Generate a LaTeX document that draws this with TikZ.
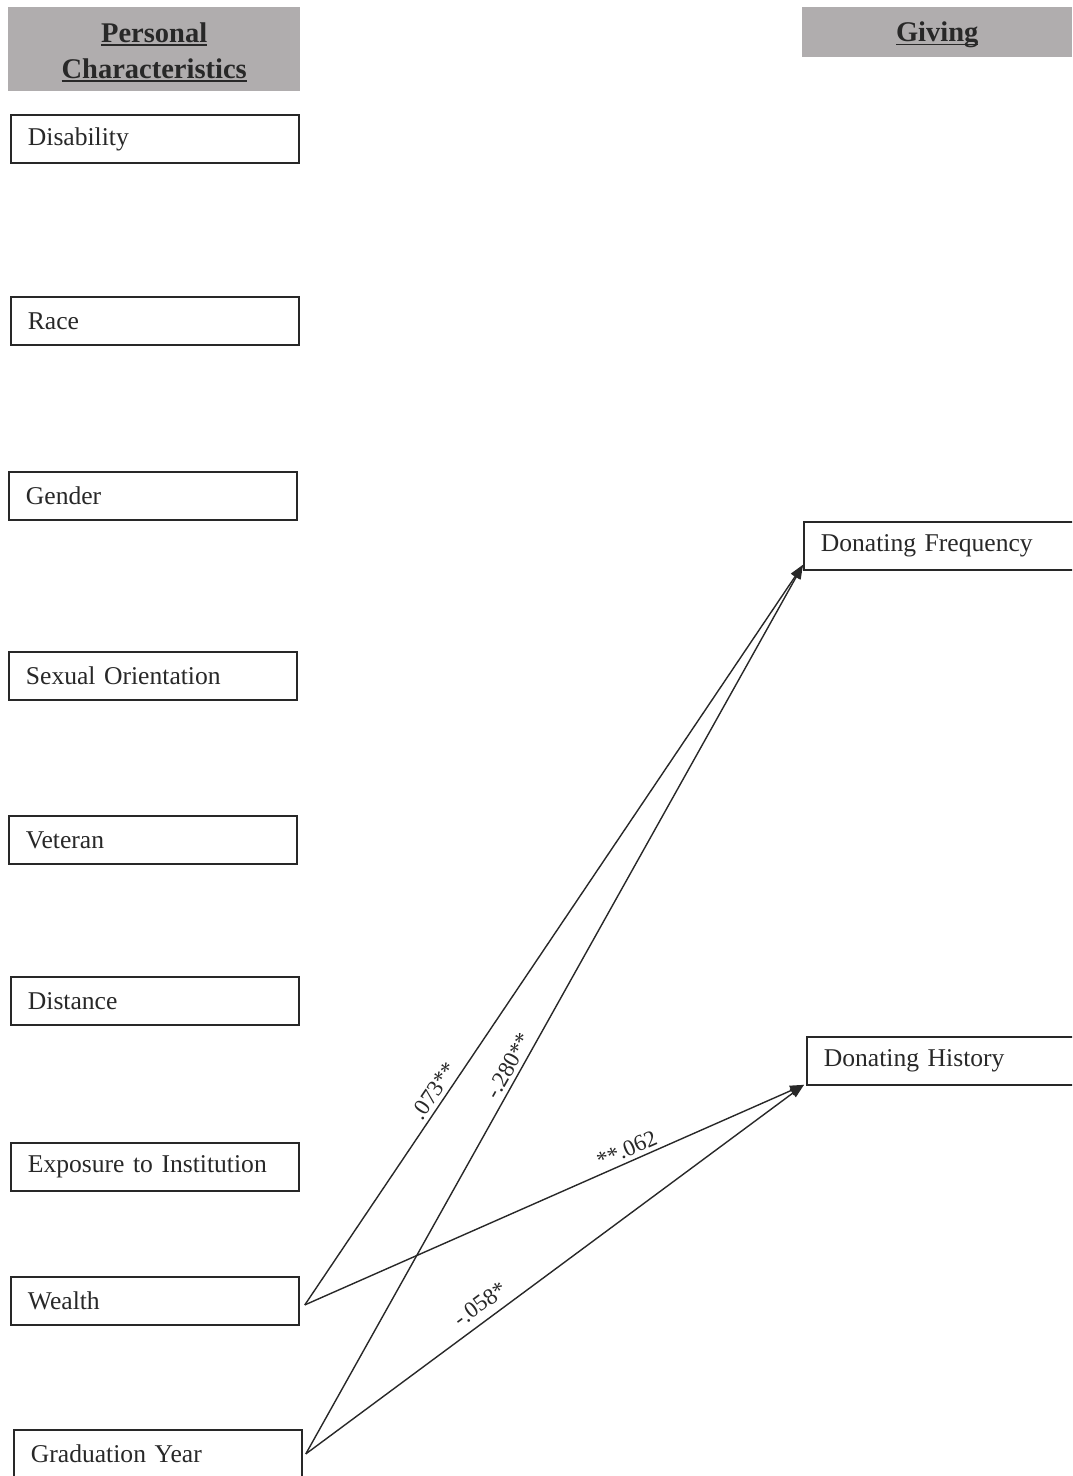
\documentclass[tikz,border=0pt]{standalone}
\usepackage{fontspec}
\setmainfont{Liberation Serif}
\usetikzlibrary{arrows.meta,calc}
\definecolor{headgrey}{RGB}{176,173,174}
\definecolor{ink}{RGB}{40,40,40}
% bold heading word with a heavy underline
\newcommand\ulword[1]{\setbox0\hbox{#1}\rlap{\rule[-3.5pt]{\wd0}{1.8pt}}\box0}

\begin{document}
\begin{tikzpicture}[x=1pt,y=-1pt,
  varbox/.style={draw=ink, line width=1.8pt, anchor=north west,
    minimum height=48pt, inner xsep=17pt, inner ysep=0pt,
    text width=254pt, align=left, text=ink,
    font=\fontsize{25.6}{30}\selectfont},
  headbox/.style={fill=headgrey, anchor=north west, inner sep=0pt},
  headtext/.style={inner sep=0pt, align=center, text=ink,
    font=\fontsize{28.5}{36}\selectfont\bfseries},
  link/.style={draw=ink, line width=1.4pt,
    -{Triangle[length=14pt,width=10pt]}},
  coef/.style={sloped, above=1pt, inner sep=3pt, text=ink,
    font=\fontsize{23}{25}\selectfont}]

\clip (0,0) rectangle (1072,1476);
\fill[white] (0,0) rectangle (1072,1476);

% column headings
\node[headbox, minimum width=292pt, minimum height=84pt] (hpc) at (8,7) {};
\node[headtext] (hpct) at ($(hpc.center)+(0,3)$)
  {\ulword{Personal}\\\ulword{Characteristics}};
\node[headbox, minimum width=270pt, minimum height=50pt] (hgv) at (802,7) {};
\node[headtext] (hgvt) at ($(hgv.center)+(0,3)$) {\ulword{Giving}};

% personal characteristics
\node[varbox] (dis)    at (10,114)  {Disability};
\node[varbox] (race)   at (10,296)  {Race};
\node[varbox] (gender) at (8,471)   {Gender};
\node[varbox] (sexor)  at (8,651)   {Sexual Orientation};
\node[varbox] (vet)    at (8,815)   {Veteran};
\node[varbox] (dist)   at (10,976)  {Distance};
\node[varbox] (expo)   at (10,1142) {Exposure to Institution};
\node[varbox] (wealth) at (10,1276) {Wealth};
\node[varbox] (grad)   at (13,1429) {Graduation Year};

% giving outcomes
\node[varbox] (df) at (803,521)  {Donating Frequency};
\node[varbox] (dh) at (806,1036) {Donating History};

% path ends
\coordinate (wout) at ($(wealth.east)+(5,4)$);
\coordinate (gout) at ($(grad.east)+(3,0)$);
\coordinate (dfin) at ($(df.south west)+(0,-6)$);
\coordinate (dhin) at ($(dh.south west)+(-2,-1)$);

% significant paths
\draw[link] (wout) -- (dfin) node[coef, pos=0.28] {.073**};
\draw[link] (gout) -- (dfin) node[coef, pos=0.43] {-.280**};
\draw[link] (wout) -- (dhin) node[coef, pos=0.655] {**.062};
\draw[link] (gout) -- (dhin) node[coef, pos=0.37, above=4pt] {-.058*};

\end{tikzpicture}
\end{document}
